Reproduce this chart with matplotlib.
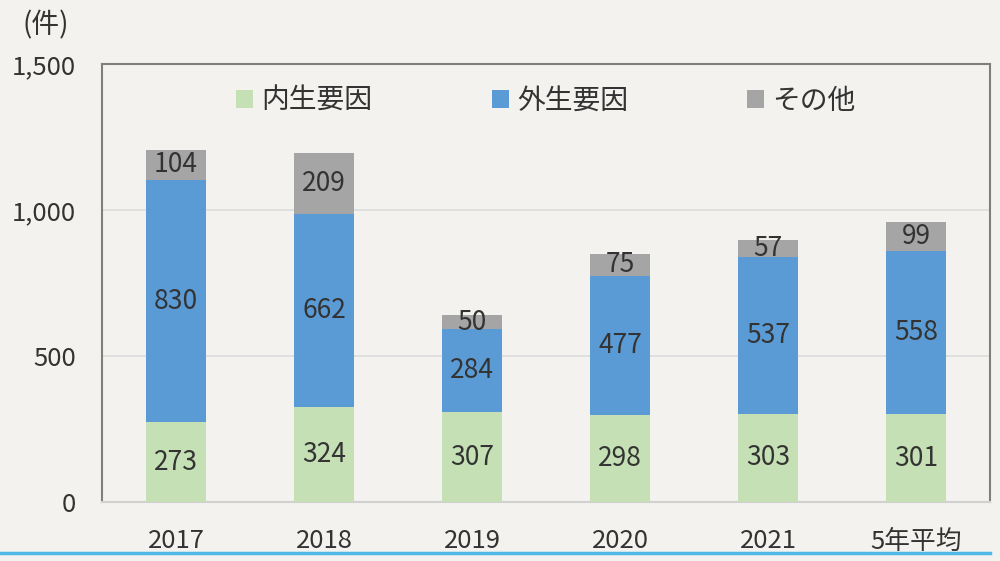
import numpy as np
import matplotlib.pyplot as plt

plt.rcParams['font.family'] = ['Noto Sans CJK JP', 'DejaVu Sans']

years = ["2017", "2018", "2019", "2020", "2021", "5年平均"]
internal = [273, 324, 307, 298, 303, 301]
external = [830, 662, 284, 477, 537, 558]
other = [104, 209, 50, 75, 57, 99]
names = ["内生要因", "外生要因", "その他"]
colors = ["#c5e0b4", "#5b9bd5", "#a5a5a5"]

bg = "#f3f2ee"
fig = plt.figure(figsize=(10, 5.61), dpi=100, facecolor=bg)
ax = fig.add_axes([0.102, 0.105, 0.888, 0.781], facecolor=bg)

x = np.arange(len(years))
bottom = np.zeros(len(years))
for vals, name, c in zip([internal, external, other], names, colors):
    bars = ax.bar(x, vals, 0.4, bottom=bottom, color=c, label=name, zorder=3)
    ax.bar_label(bars, labels=[str(v) for v in vals], label_type="center",
                 fontsize=19, color="#333333")
    bottom += np.array(vals)

ax.set_xlim(-0.5, len(years) - 0.5)
ax.set_ylim(0, 1500)
ax.set_yticks([0, 500, 1000, 1500])
ax.set_yticklabels(["0", "500", "1,000", "1,500"])
ax.set_xticks(x)
ax.set_xticklabels(years)
ax.tick_params(length=0, labelsize=18.5, colors="#333333")
ax.tick_params(axis="y", pad=19)
ax.tick_params(axis="x", pad=19)
ax.grid(axis="y", color="#dcdcdc", lw=1.2, zorder=0)

for s in ["left", "top", "right"]:
    ax.spines[s].set_color("#7f7f7f")
    ax.spines[s].set_linewidth(1.5)
ax.spines["bottom"].set_color("#d0d0d0")
ax.spines["bottom"].set_linewidth(1.5)

fig.text(0.046, 0.955, "(件)", fontsize=20, color="#333333", ha="center", va="center")

ax.legend(loc="center", bbox_to_anchor=(0.5, 0.916), ncol=3, frameon=False,
          fontsize=20, handlelength=0.6, handleheight=0.6, handletextpad=0.3,
          columnspacing=4.3, labelcolor="#333333")

fig.add_artist(plt.Line2D([0.0, 0.99], [1 - 553 / 561] * 2, color="#4fb8e6", lw=2.5))

fig.savefig("out.png", facecolor=bg)
